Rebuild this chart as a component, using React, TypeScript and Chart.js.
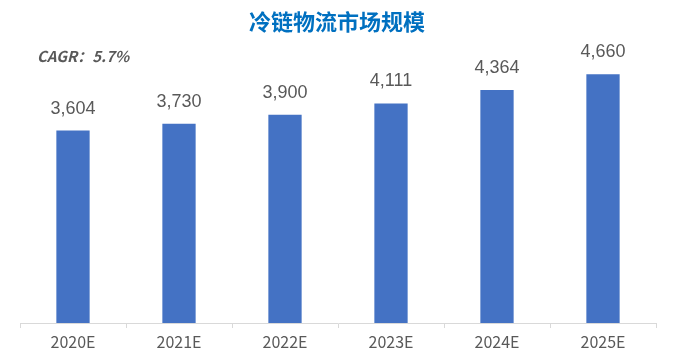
import React, { useEffect, useRef } from "react";
import { Chart, registerables } from "chart.js";

Chart.register(...registerables);

const TITLE = "冷链物流市场规模";
const CAGR_TEXT = "CAGR：5.7%";
const categories = ["2020E", "2021E", "2022E", "2023E", "2024E", "2025E"];
const values = [3604, 3730, 3900, 4111, 4364, 4660];

const FONT = "'Noto Sans CJK SC', 'Liberation Sans', sans-serif";
const NUM_FONT = "'Liberation Sans', Arial, sans-serif";

const overlayPlugin = {
  id: "overlay",
  afterDatasetsDraw(chart: any) {
    const ctx = chart.ctx;
    ctx.save();
    // title
    ctx.fillStyle = "#0070C0";
    ctx.font = `bold 22px ${FONT}`;
    ctx.textAlign = "center";
    ctx.textBaseline = "middle";
    ctx.fillText(TITLE, 337, 22);
    // CAGR
    ctx.textAlign = "left";
    ctx.fillStyle = "#595959";
    ctx.font = `italic bold 15px ${FONT}`;
    ctx.fillText(CAGR_TEXT, 37, 56);
    // data labels
    const meta = chart.getDatasetMeta(0);
    ctx.font = `18px ${NUM_FONT}`;
    ctx.textAlign = "center";
    ctx.textBaseline = "bottom";
    ctx.fillStyle = "#595959";
    meta.data.forEach((bar: any, i: number) => {
      ctx.fillText(values[i].toLocaleString("en-US"), bar.x, bar.y - 13);
    });
    ctx.restore();
  },
};

export default function App() {
  const ref = useRef<HTMLCanvasElement | null>(null);
  useEffect(() => {
    if (!ref.current) return;
    const chart = new Chart(ref.current, {
      type: "bar",
      data: {
        labels: categories,
        datasets: [
          {
            data: values,
            backgroundColor: "#4472C4",
            barPercentage: 1,
            categoryPercentage: 0.314,
          },
        ],
      },
      options: {
        responsive: false,
        animation: false,
        layout: { padding: { top: 56, left: 20, right: 21, bottom: 0 } },
        plugins: { legend: { display: false }, tooltip: { enabled: false }, title: { display: false } },
        scales: {
          x: {
            grid: { display: true, drawOnChartArea: false, drawTicks: true, tickLength: 5, color: "#D9D9D9" },
            border: { display: true, color: "#D9D9D9" },
            ticks: { color: "#595959", font: { size: 16, family: FONT }, padding: 4 },
            afterFit: (s: any) => { s.height = 30; },
          },
          y: { display: false, min: 0, max: 5000 },
        },
      },
      plugins: [overlayPlugin],
    });
    return () => chart.destroy();
  }, []);
  return (
    <div style={{ position: "fixed", left: 0, top: 0, width: 677, height: 353, background: "#fff" }}>
      <canvas ref={ref} width={677} height={353} style={{ display: "block" }} />
    </div>
  );
}
